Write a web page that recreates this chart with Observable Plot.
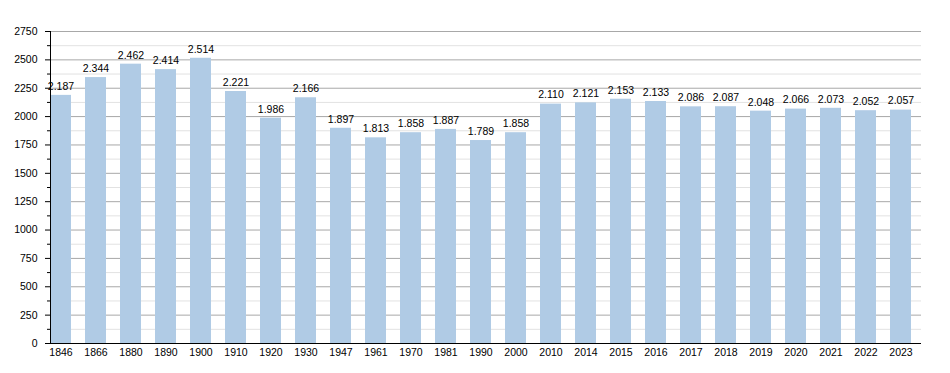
<!DOCTYPE html>
<html>
<head>
<meta charset="utf-8">
<script src="https://cdn.jsdelivr.net/npm/d3@7"></script>
<script src="https://cdn.jsdelivr.net/npm/@observablehq/plot@0.6"></script>
<style>
  html, body { margin: 0; padding: 0; background: #fff; }
  svg { display: block; }
</style>
</head>
<body>
<div id="chart"></div>
<script>
const years = ["1846","1866","1880","1890","1900","1910","1920","1930","1947","1961","1970","1981","1990","2000","2010","2014","2015","2016","2017","2018","2019","2020","2021","2022","2023"];
const population = [2187,2344,2462,2414,2514,2221,1986,2166,1897,1813,1858,1887,1789,1858,2110,2121,2153,2133,2086,2087,2048,2066,2073,2052,2057];
const majorTicks = [0,250,500,750,1000,1250,1500,1750,2000,2250,2500,2750];
const minorTicks = [125,375,625,875,1125,1375,1625,1875,2125,2375,2625];

const data = years.map((year, i) => ({year, pop: population[i]}));
const fmt = d3.formatLocale({decimal: ",", thousands: ".", grouping: [3], currency: ["", ""]}).format(",");

const font = "'Liberation Sans', Arial, sans-serif";
const chart = Plot.plot({
  width: 950,
  height: 373,
  marginLeft: 50,
  marginRight: 29,
  marginTop: 31,
  marginBottom: 30,
  style: {fontFamily: font, fontSize: "10.5px", color: "#000", background: "#fff"},
  x: {type: "band", domain: years, paddingInner: 0.4, paddingOuter: 0, align: 0, label: null},
  y: {domain: [0, 2750], label: null},
  marks: [
    Plot.ruleY(minorTicks, {stroke: "#e2e2e2", strokeWidth: 1}),
    Plot.ruleY(majorTicks, {stroke: "#a8a8a8", strokeWidth: 1}),
    Plot.barY(data, {x: "year", y: "pop", fill: "#b0cbe5"}),
    Plot.text(data, {x: "year", y: "pop", text: d => fmt(d.pop), dy: -9, fill: "#000", fontSize: 10.5}),
    Plot.axisY({ticks: majorTicks, tickSize: 5, tickPadding: 8, tickFormat: d => String(d), label: null, fontSize: 10.5}),
    Plot.axisY({ticks: minorTicks, tickSize: 3, tickFormat: () => "", label: null}),
    Plot.axisX({tickSize: 0, tickPadding: 5, label: null, fontSize: 10.5}),
    Plot.frame({anchor: "left", stroke: "#000"}),
    Plot.ruleY([0], {stroke: "#000", strokeWidth: 1.2})
  ]
});
document.getElementById("chart").appendChild(chart);
</script>
</body>
</html>
